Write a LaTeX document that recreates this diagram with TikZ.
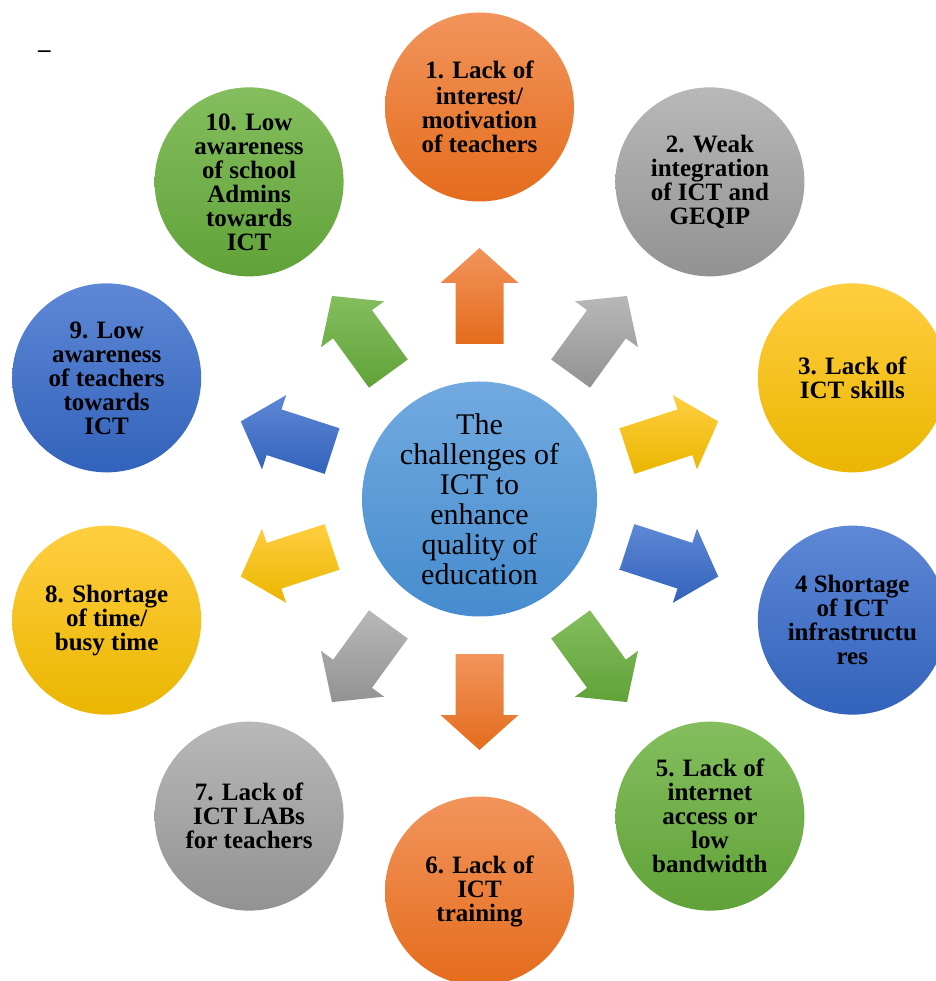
\documentclass[tikz,border=0pt]{standalone}
\usepackage{fontspec}
\setmainfont{Liberation Serif}
\usetikzlibrary{calc}

\definecolor{orgTop}{RGB}{242,148,92}
\definecolor{orgBot}{RGB}{228,108,28}
\definecolor{gryTop}{RGB}{184,184,184}
\definecolor{gryBot}{RGB}{146,146,146}
\definecolor{ylwTop}{RGB}{255,206,64}
\definecolor{ylwBot}{RGB}{234,182,0}
\definecolor{bluTop}{RGB}{94,136,214}
\definecolor{bluBot}{RGB}{50,98,186}
\definecolor{grnTop}{RGB}{132,190,94}
\definecolor{grnBot}{RGB}{96,162,56}
\definecolor{skyTop}{RGB}{114,170,224}
\definecolor{skyBot}{RGB}{70,140,206}

\tikzset{
  issue/.style={circle, minimum size=189pt, inner sep=0pt, align=center,
    font=\fontsize{25}{24}\selectfont\bfseries, top color=#1Top, bottom color=#1Bot},
  hub/.style={circle, minimum size=235pt, inner sep=0pt, align=center,
    font=\fontsize{30}{30}\selectfont, top color=skyTop, bottom color=skyBot},
  blockfill/.style={top color=#1Top, bottom color=#1Bot}
}

\begin{document}
\begin{tikzpicture}
\useasboundingbox (-479.5pt,-482pt) rectangle (455.5pt,499pt);
\node[font=\fontsize{25}{24}\selectfont\bfseries] (dash) at (-435pt,445pt) {–};
\node[hub] (ctr) at (0,0) {The\\ challenges of\\ ICT to\\ enhance\\ quality of\\ education};
\node[issue=org] (c1) at (90:392pt) {\raisebox{2pt}{1. Lack of}\\ interest/\\ motivation\\ of teachers};
\node[issue=gry] (c2) at (54:392pt) {2. Weak\\ integration\\ of ICT and\\ GEQIP};
\node[issue=ylw] (c3) at (18:392pt) {3. Lack of\\ ICT skills};
\node[issue=blu] (c4) at (-18:392pt) {4 Shortage\\ of ICT\\ infrastructu\\ res};
\node[issue=grn] (c5) at (-54:392pt) {5. Lack of\\ internet\\ access or\\ low\\ bandwidth};
\node[issue=org] (c6) at (-90:392pt) {6. Lack of\\ ICT\\ training};
\node[issue=gry] (c7) at (-126:392pt) {7. Lack of\\ ICT LABs\\ for teachers};
\node[issue=ylw] (c8) at (-162:392pt) {8. Shortage\\ of time/\\ busy time};
\node[issue=blu] (c9) at (162:392pt) {9. Low\\ awareness\\ of teachers\\ towards\\ ICT};
\node[issue=grn] (c10) at (126:392pt) {10. Low\\ awareness\\ of school\\ Admins\\ towards\\ ICT};
% block arrows from the hub out to each circle
\foreach \i/\col in {1/org,2/gry,3/ylw,4/blu,5/grn,6/org,7/gry,8/ylw,9/blu,10/grn} {
  \coordinate (t\i) at ($(ctr.center)!155pt!(c\i.center)$);
  \coordinate (h\i) at ($(ctr.center)!216pt!(c\i.center)$);
  \coordinate (p\i) at ($(ctr.center)!251pt!(c\i.center)$);
  \path[blockfill=\col] ($(t\i)!24pt!90:(c\i.center)$) -- ($(h\i)!24pt!90:(c\i.center)$)
    -- ($(h\i)!39pt!90:(c\i.center)$) -- (p\i) -- ($(h\i)!39pt!-90:(c\i.center)$)
    -- ($(h\i)!24pt!-90:(c\i.center)$) -- ($(t\i)!24pt!-90:(c\i.center)$) -- cycle;
}
\end{tikzpicture}
\end{document}
